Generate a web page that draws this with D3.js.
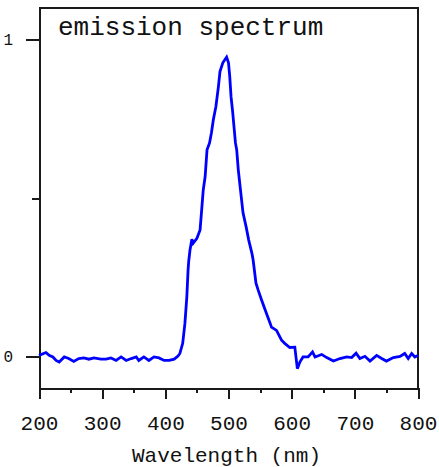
<!DOCTYPE html>
<html>
<head>
<meta charset="utf-8">
<script src="https://cdn.jsdelivr.net/npm/d3@7"></script>
<style>
  html, body { margin: 0; padding: 0; background: #ffffff; }
  svg { display: block; }
  text { font-family: "Liberation Mono", "Courier New", monospace; fill: #111; }
</style>
</head>
<body>
<svg id="chart" width="439" height="467"></svg>
<script>
// ---- data ----
const title = "emission spectrum";
const xLabel = "Wavelength (nm)";
const xMajorTicks = [200, 300, 400, 500, 600, 700, 800];
const xMinorTicks = [250, 350, 450, 550, 650, 750];
const yMajorTicks = [0, 1];
const yMinorTicks = [0.5];
const wavelength = [
  200, 211, 216, 222, 227, 232, 240, 247, 255, 263, 271, 279, 287, 298, 306, 314,
  322, 330, 338, 346, 354, 358, 366, 374, 382, 390, 398, 406, 414, 420, 423, 427.5,
  431, 434, 436, 437, 439, 442, 444, 450, 455, 457.5, 460, 463, 466, 470, 473, 476,
  480, 484, 486.5, 491, 497, 500, 502, 504, 506.6, 508.7, 511, 513, 515.5, 519,
  523, 528, 532, 537, 539, 543.5, 547, 552.5, 560, 566, 568, 576, 584, 589, 597,
  605, 609, 613, 618, 626, 633, 637, 647.5, 655.5, 666, 676.5, 687, 695, 702, 708,
  716, 724, 734.5, 742.5, 750, 761, 771.5, 779, 784.5, 790, 795, 800
];
const intensity = [
  0.003, 0.012, 0.003, -0.002, -0.013, -0.018, -0.002, -0.007, -0.016, -0.007, -0.005, -0.009, -0.005, -0.009, -0.009, -0.005,
  -0.013, -0.002, -0.013, -0.007, -0.002, -0.013, -0.002, -0.013, -0.002, -0.005, -0.013, -0.013, -0.009, 0.001, 0.009, 0.041,
  0.104, 0.187, 0.272, 0.300, 0.335, 0.370, 0.357, 0.373, 0.399, 0.462, 0.525, 0.567, 0.652, 0.674, 0.706, 0.747,
  0.788, 0.851, 0.899, 0.927, 0.945, 0.927, 0.883, 0.820, 0.772, 0.725, 0.674, 0.652, 0.589, 0.525,
  0.453, 0.408, 0.367, 0.326, 0.304, 0.231, 0.209, 0.177, 0.136, 0.104, 0.092, 0.082, 0.051, 0.041, 0.028,
  0.029, -0.039, -0.018, -0.002, -0.002, 0.014, -0.002, 0.006, -0.004, -0.015, -0.007, -0.002, -0.004, 0.010, -0.007,
  0.000, -0.015, 0.003, -0.007, -0.015, -0.004, 0.000, 0.009, -0.007, 0.009, -0.002, 0.003
];

// ---- layout ----
const svg = d3.select("#chart");
const mLeft = 39, mRight = 418, mTop = 8, mBottom = 388;

const x = d3.scaleLinear().domain([200, 800]).range([mLeft, mRight]);
const y = d3.scaleLinear().domain([-0.1, 1.1]).range([mBottom, mTop]);

const axisColor = "#1a1a1a";

// frame (top and right borders)
svg.append("path")
  .attr("d", `M${mLeft},${mTop}H${mRight}V${mBottom}`)
  .attr("fill", "none").attr("stroke", axisColor).attr("stroke-width", 2)
  .attr("shape-rendering", "crispEdges");

// x axis
const gx = svg.append("g").attr("transform", `translate(0,${mBottom})`)
  .call(d3.axisBottom(x).tickValues(xMajorTicks).tickFormat(d3.format("d")).tickSize(11).tickPadding(16).tickSizeOuter(0));
const gxm = svg.append("g").attr("transform", `translate(0,${mBottom})`)
  .call(d3.axisBottom(x).tickValues(xMinorTicks).tickSize(5).tickFormat("").tickSizeOuter(0));
// y axis
const gy = svg.append("g").attr("transform", `translate(${mLeft},0)`)
  .call(d3.axisLeft(y).tickValues(yMajorTicks).tickFormat(d3.format("d")).tickSize(13).tickPadding(13).tickSizeOuter(0));
const gym = svg.append("g").attr("transform", `translate(${mLeft},0)`)
  .call(d3.axisLeft(y).tickValues(yMinorTicks).tickSize(7).tickFormat("").tickSizeOuter(0));

[gx, gxm, gy, gym].forEach(g => {
  g.selectAll(".domain").attr("stroke", axisColor).attr("stroke-width", 2).attr("shape-rendering", "crispEdges");
  g.selectAll(".tick line").attr("stroke", axisColor).attr("stroke-width", 2).attr("shape-rendering", "crispEdges");
});
gx.selectAll(".tick text")
  .attr("font-family", "'Liberation Mono', 'Courier New', monospace")
  .attr("font-size", 21).attr("fill", "#111");
gy.selectAll(".tick text")
  .attr("font-family", "'Liberation Mono', 'Courier New', monospace")
  .attr("font-size", 16).attr("fill", "#111");

// spectrum line
const pts = wavelength.map((w, i) => [w, intensity[i]]);
const line = d3.line().x(d => x(d[0])).y(d => y(d[1]));
svg.append("path")
  .datum(pts)
  .attr("d", line)
  .attr("fill", "none")
  .attr("stroke", "#0000ff")
  .attr("stroke-width", 2.8)
  .attr("stroke-linejoin", "miter");

// title
svg.append("text")
  .attr("x", 58).attr("y", 35)
  .attr("font-size", 26)
  .text(title);

// x label
svg.append("text")
  .attr("x", (mLeft + mRight) / 2 - 2).attr("y", 462)
  .attr("text-anchor", "middle")
  .attr("font-size", 21)
  .text(xLabel);
</script>
</body>
</html>
